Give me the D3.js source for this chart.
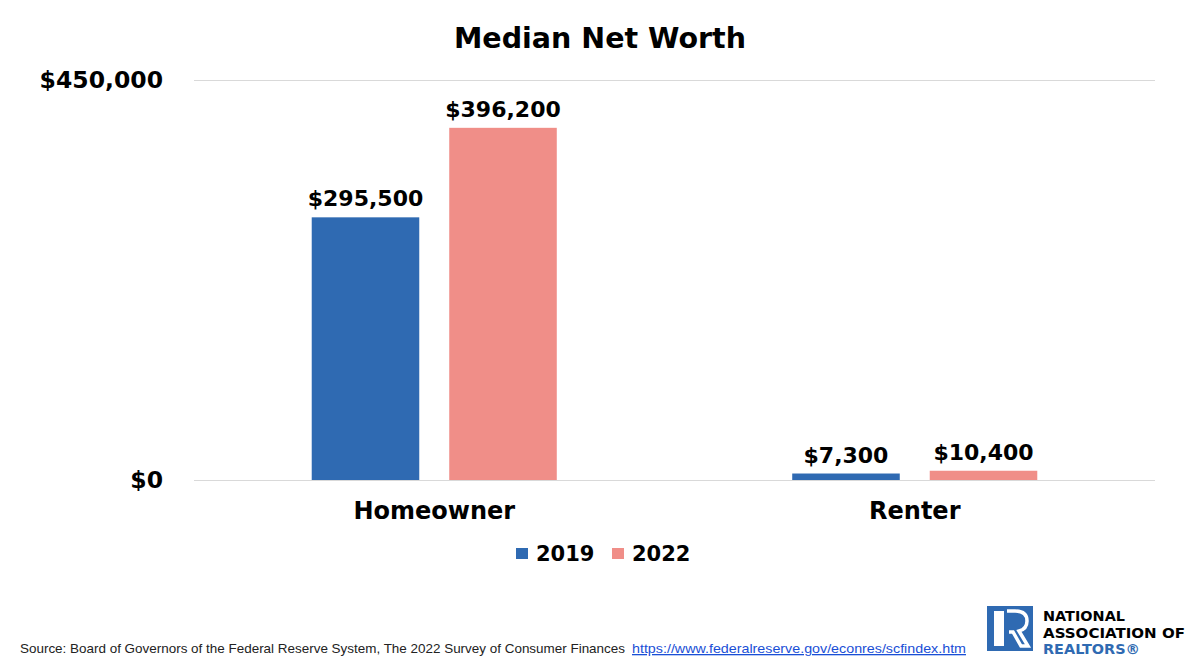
<!DOCTYPE html>
<html>
<head>
<meta charset="utf-8">
<script src="https://cdn.jsdelivr.net/npm/d3@7"></script>
<style>
  body { margin: 0; background: #fff; }
  svg { font-family: "DejaVu Sans", sans-serif; }
  .grid line { stroke: #d9d9d9; stroke-width: 1.2; }
  .grid text { font-family: "DejaVu Sans", sans-serif; font-size: 23.5px; font-weight: bold; fill: #000; }
  .axis.x text { font-family: "DejaVu Sans", sans-serif; font-size: 24px; font-weight: bold; fill: #000; }
</style>
</head>
<body>
<svg class="chart" width="1200" height="671"></svg>
<script>
const categories = ['Homeowner', 'Renter'];
const years = ['2019', '2022'];
const values2019 = [295500, 7300];
const values2022 = [396200, 10400];
const yTicks = [0, 450000];
const colors = ['#2f6ab2', '#f08e88'];

function drawNetWorth(){
  const margin = { top: 80, bottom: 191, left: 194, right: 45 };

  const width = 1200 - margin.left - margin.right;
  const height = 671 - margin.top - margin.bottom;

  const data = categories.map((c, i) => ({
    category: c,
    values: [
      { year: years[0], value: values2019[i] },
      { year: years[1], value: values2022[i] }
    ]
  }));

  const x0 = d3.scaleBand()
              .domain(categories)
              .range([0, width])
              .paddingInner(0.49)
              .paddingOuter(0.245);

  const x1 = d3.scaleBand()
              .domain(years)
              .range([0, x0.bandwidth()])
              .paddingInner(0.218);

  const y = d3.scaleLinear()
              .domain([0, 450000])
              .range([height, 0]);

  const color = d3.scaleOrdinal().domain(years).range(colors);

  const svgRoot = d3.select('svg.chart');

  svgRoot.append('text')
    .text('Median Net Worth')
    .attr('x', 600)
    .attr('y', 48)
    .style('text-anchor', 'middle')
    .style('font-size', '28.5px')
    .style('font-weight', 'bold');

  const svg = svgRoot.append('g')
    .attr('transform', `translate(${margin.left}, ${margin.top})`);

  // gridlines + y labels
  const yGrid = svg.append('g')
    .attr('class', 'grid')
    .call(d3.axisLeft(y)
      .tickValues(yTicks)
      .tickSize(-width)
      .tickPadding(31)
      .tickFormat(d => '$' + d3.format(',')(d)));
  yGrid.select('.domain').remove();

  const xAxis = svg.append('g')
    .attr('class', 'axis x')
    .attr('transform', `translate(0, ${height})`)
    .call(d3.axisBottom(x0).tickSize(0).tickPadding(22));
  xAxis.select('.domain').remove();

  const groups = svg.selectAll('g.cat')
    .data(data)
    .enter()
    .append('g')
      .attr('class', 'cat')
      .attr('transform', d => `translate(${x0(d.category)}, 0)`);

  groups.selectAll('rect')
    .data(d => d.values)
    .enter()
    .append('rect')
      .attr('x', d => x1(d.year))
      .attr('y', d => y(d.value))
      .attr('width', x1.bandwidth())
      .attr('height', d => height - y(d.value))
      .attr('fill', d => color(d.year));

  groups.selectAll('text.barLabel')
    .data(d => d.values)
    .enter()
    .append('text')
      .attr('class', 'barLabel')
      .attr('x', d => x1(d.year) + x1.bandwidth() / 2)
      .attr('y', d => y(d.value) - 11)
      .text(d => '$' + d3.format(',')(d.value))
      .style('text-anchor', 'middle')
      .style('font-size', '22px')
      .style('font-weight', 'bold');

  // legend
  const legend = svgRoot.append('g')
    .attr('transform', 'translate(516, 548)');
  const items = legend.selectAll('g')
    .data(years)
    .enter()
    .append('g')
      .attr('transform', (d, i) => `translate(${i * 96}, 0)`);
  items.append('rect')
    .attr('width', 12)
    .attr('height', 11)
    .attr('fill', d => color(d));
  items.append('text')
    .attr('x', 20)
    .attr('y', 13)
    .text(d => d)
    .style('font-size', '21px')
    .style('font-weight', 'bold');

  // source
  svgRoot.append('text')
    .attr('x', 20)
    .attr('y', 653)
    .text('Source: Board of Governors of the Federal Reserve System, The 2022 Survey of Consumer Finances')
    .attr('textLength', 605)
    .attr('lengthAdjust', 'spacingAndGlyphs')
    .style('font-family', '"Liberation Sans", sans-serif')
    .style('font-size', '13px')
    .style('fill', '#222');
  svgRoot.append('text')
    .attr('x', 632)
    .attr('y', 653)
    .text('https://www.federalreserve.gov/econres/scfindex.htm')
    .attr('textLength', 334)
    .attr('lengthAdjust', 'spacingAndGlyphs')
    .style('font-family', '"Liberation Sans", sans-serif')
    .style('font-size', '13px')
    .style('fill', '#1a4fd6')
    .style('text-decoration', 'underline');

  // logo
  const logo = svgRoot.append('g').attr('transform', 'translate(987, 606)');
  logo.append('rect').attr('width', 46).attr('height', 45).attr('fill', '#2f6ab2');
  logo.append('rect').attr('x', 7).attr('y', 5).attr('width', 10).attr('height', 35).attr('fill', '#fff');
  logo.append('path')
    .attr('d', 'M20,5 H28 Q40,5 40,15 Q40,23 32,25 L41,40 H34 L26,26 H22')
    .attr('fill', 'none')
    .attr('stroke', '#fff')
    .attr('stroke-width', 3.5);
  const logoText = svgRoot.append('g')
    .style('font-weight', 'bold')
    .style('font-size', '14.5px');
  logoText.append('text').attr('x', 1043).attr('y', 621).text('NATIONAL')
    .attr('textLength', 82).attr('lengthAdjust', 'spacingAndGlyphs');
  logoText.append('text').attr('x', 1043).attr('y', 638).text('ASSOCIATION OF')
    .attr('textLength', 142).attr('lengthAdjust', 'spacingAndGlyphs');
  logoText.append('text').attr('x', 1043).attr('y', 654).text('REALTORS®')
    .attr('textLength', 97).attr('lengthAdjust', 'spacingAndGlyphs')
    .style('fill', '#2f6ab2');
}

drawNetWorth();
</script>
</body>
</html>
